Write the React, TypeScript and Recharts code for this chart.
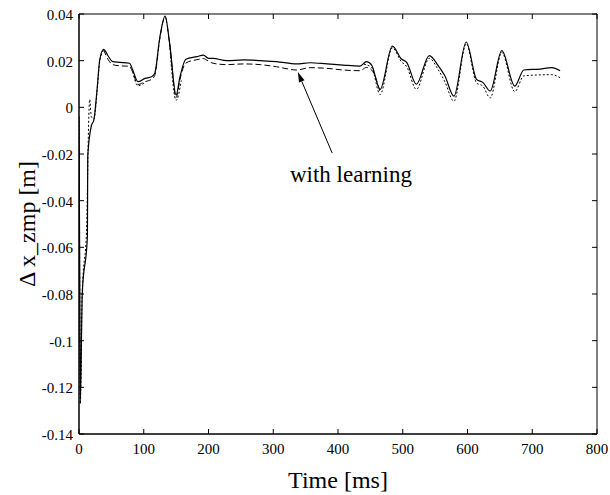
import React from 'react';
import { LineChart, Line, XAxis, YAxis, ReferenceArea, ReferenceLine, ReferenceDot, Label } from 'recharts';

document.body.style.margin = '0';

const FONT = '"Liberation Serif", "Times New Roman", serif';

const X_TICKS = [0, 100, 200, 300, 400, 500, 600, 700, 800];
const Y_TICKS = [-0.14, -0.12, -0.1, -0.08, -0.06, -0.04, -0.02, 0, 0.02, 0.04];

// solid line
const solidT = [0, 1, 2, 5, 13, 13.5, 19, 23, 28, 32, 38, 45, 52, 63, 78, 83, 91, 102, 112, 117, 125, 133, 140, 150, 156, 165, 182, 192, 200, 207, 228, 254, 280, 305, 336, 357, 383, 408, 434, 444, 452, 465, 484, 498, 506, 521, 541, 555, 565, 579, 598, 614, 624, 635, 653, 673, 687, 712, 730, 743];
const solidV = [-0.004, -0.065, -0.127, -0.08, -0.055, -0.021, -0.008, -0.0054, 0.008, 0.0203, 0.0249, 0.022, 0.0196, 0.0193, 0.0189, 0.016, 0.011, 0.0124, 0.0131, 0.0146, 0.0303, 0.0391, 0.0274, 0.0053, 0.0131, 0.0206, 0.0217, 0.0224, 0.021, 0.021, 0.02, 0.0203, 0.02, 0.0196, 0.0186, 0.0191, 0.0186, 0.0181, 0.0177, 0.0196, 0.0181, 0.0077, 0.0262, 0.0207, 0.0193, 0.0099, 0.0222, 0.0178, 0.0135, 0.0048, 0.028, 0.012, 0.0106, 0.007, 0.0243, 0.0091, 0.016, 0.0164, 0.017, 0.0157];

// dashed line (with learning)
const dashT = [38, 45, 52, 63, 78, 83, 91, 102, 112, 117, 125, 133, 140, 150, 156, 165, 182, 192, 200, 207, 228, 254, 280, 305, 336, 357, 383, 408, 434, 444, 452, 465];
const dashV = [0.0247, 0.0205, 0.0183, 0.0178, 0.0176, 0.015, 0.0098, 0.011, 0.012, 0.0136, 0.0298, 0.0388, 0.027, 0.0042, 0.012, 0.019, 0.0204, 0.0209, 0.0198, 0.0189, 0.0183, 0.0186, 0.0183, 0.0174, 0.016, 0.017, 0.0167, 0.016, 0.0157, 0.0171, 0.016, 0.0065];

// dotted line
const dotT = [0, 1, 2, 5, 12, 14, 16.5, 19, 23, 28, 32, 38, 60, 83, 91, 102, 120, 140, 150, 158, 300, 440, 452, 465, 484, 498, 506, 521, 541, 555, 565, 579, 598, 614, 624, 635, 653, 673, 687, 712, 730, 743];
const dotV = [-0.004, -0.065, -0.127, -0.08, -0.05, -0.018, 0.0034, -0.004, -0.005, 0.007, 0.0195, 0.0245, null, 0.0152, 0.0092, 0.0108, null, 0.027, 0.003, 0.0115, null, 0.0185, 0.017, 0.0055, 0.0255, 0.0195, 0.0175, 0.0077, 0.021, 0.016, 0.011, 0.0026, 0.0272, 0.0105, 0.009, 0.004, 0.0235, 0.0067, 0.0135, 0.0139, 0.014, 0.0127];

const rows = (ts: number[], vs: (number | null)[]) => ts.map((t, i) => ({ t, v: vs[i] }));

const W = 610;
const H = 495;
const M = { top: 14, right: 13, left: 0, bottom: 0 };
const Y_W = 79;
const X_H = 61;
const PLOT_LEFT = M.left + Y_W;
const PLOT_RIGHT = W - M.right;
const PLOT_TOP = M.top;
const PLOT_BOTTOM = H - X_H;
const TICK = 5;

const XTick = (props: any) => {
  const { x, payload } = props;
  return (
    <g>
      <line x1={x} x2={x} y1={PLOT_BOTTOM} y2={PLOT_BOTTOM - TICK} stroke="#000" />
      <line x1={x} x2={x} y1={PLOT_TOP} y2={PLOT_TOP + TICK} stroke="#000" />
      <text x={x} y={PLOT_BOTTOM + 20} textAnchor="middle" fontSize={15} fontFamily={FONT} fill="#000">
        {String(payload.value)}
      </text>
    </g>
  );
};

const YTick = (props: any) => {
  const { y, payload } = props;
  return (
    <g>
      <line x1={PLOT_LEFT} x2={PLOT_LEFT + TICK} y1={y} y2={y} stroke="#000" />
      <line x1={PLOT_RIGHT} x2={PLOT_RIGHT - TICK} y1={y} y2={y} stroke="#000" />
      <text x={PLOT_LEFT - 6} y={y} dy="0.4em" textAnchor="end" fontSize={15} fontFamily={FONT} fill="#000">
        {String(payload.value)}
      </text>
    </g>
  );
};

const Arrow = (props: any) => {
  const { x1, y1, x2, y2 } = props;
  const a = Math.atan2(y2 - y1, x2 - x1);
  const len = 10;
  const half = 3;
  const bx = x2 - len * Math.cos(a);
  const by = y2 - len * Math.sin(a);
  const px = -Math.sin(a) * half;
  const py = Math.cos(a) * half;
  return (
    <g>
      <line x1={x1} y1={y1} x2={bx} y2={by} stroke="#000" strokeWidth={1} />
      <polygon points={`${x2},${y2} ${bx + px},${by + py} ${bx - px},${by - py}`} fill="#000" />
    </g>
  );
};

export default function App() {
  return (
    <LineChart width={W} height={H} margin={M}>
      <XAxis
        dataKey="t"
        type="number"
        domain={[0, 800]}
        ticks={X_TICKS}
        allowDataOverflow
        height={X_H}
        tickLine={false}
        axisLine={{ stroke: '#000' }}
        tick={<XTick />}
      >
        <Label
          value="Time [ms]"
          position="insideBottom"
          offset={7}
          style={{ fontSize: 24, fontFamily: FONT, fill: '#000' }}
        />
      </XAxis>
      <YAxis
        type="number"
        domain={[-0.14, 0.04]}
        ticks={Y_TICKS}
        allowDataOverflow
        width={Y_W}
        tickLine={false}
        axisLine={{ stroke: '#000' }}
        tick={<YTick />}
      >
        <Label
          content={(p: any) => {
            const vb = p.viewBox;
            const cx = vb.x + 27;
            const cy = vb.y + vb.height / 2;
            return (
              <text
                x={cx}
                y={cy}
                dy="0.35em"
                transform={`rotate(-90, ${cx}, ${cy})`}
                textAnchor="middle"
                fontSize={24}
                fontFamily={FONT}
                fill="#000"
              >
                Δ x_zmp [m]
              </text>
            );
          }}
        />
      </YAxis>
      <ReferenceArea x1={0} x2={800} y1={-0.14} y2={0.04} fill="none" stroke="#000" strokeWidth={1} />
      <Line
        data={rows(solidT, solidV)}
        dataKey="v"
        type="monotone"
        stroke="#000"
        strokeWidth={1.2}
        dot={false}
        isAnimationActive={false}
      />
      <Line
        data={rows(dashT, dashV)}
        dataKey="v"
        type="monotone"
        stroke="#000"
        strokeWidth={1}
        strokeDasharray="6 3"
        dot={false}
        isAnimationActive={false}
      />
      <Line
        data={rows(dotT, dotV)}
        dataKey="v"
        type="monotone"
        stroke="#000"
        strokeWidth={1}
        strokeDasharray="2 2"
        dot={false}
        connectNulls={false}
        isAnimationActive={false}
      />
      <ReferenceLine
        segment={[{ x: 391, y: -0.0196 }, { x: 338, y: 0.0151 }]}
        shape={<Arrow />}
      />
      <ReferenceDot x={420} y={-0.0284} r={0} fill="none" stroke="none">
        <Label
          value="with learning"
          position="center"
          style={{ fontSize: 23, fontFamily: FONT, fill: '#000' }}
        />
      </ReferenceDot>
    </LineChart>
  );
}
